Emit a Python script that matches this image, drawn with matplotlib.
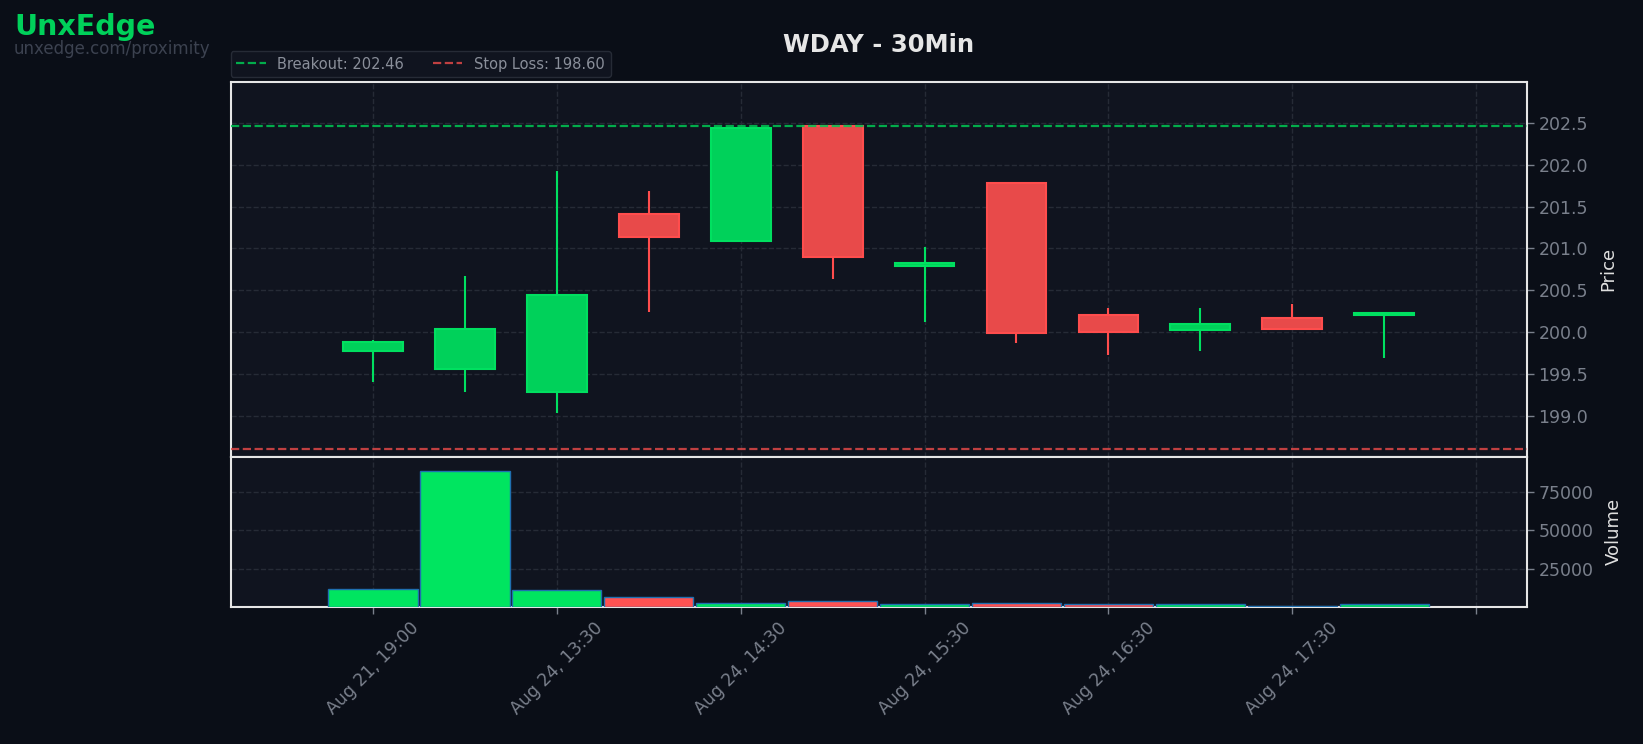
import matplotlib
matplotlib.use("Agg")
import matplotlib.pyplot as plt
from matplotlib.ticker import MultipleLocator

# ---- data ----
title = "WDAY - 30Min"
tick_labels = ["Aug 21, 19:00", "Aug 24, 13:30", "Aug 24, 14:30", "Aug 24, 15:30",
               "Aug 24, 16:30", "Aug 24, 17:30", ""]
opens = [199.77, 199.56, 199.29, 201.41, 201.09, 202.46, 200.79, 201.78, 200.20, 200.02, 200.17, 200.21]
highs = [199.90, 200.67, 201.92, 201.68, 202.44, 202.46, 201.02, 201.78, 200.29, 200.29, 200.33, 200.23]
lows = [199.40, 199.28, 199.03, 200.24, 201.08, 200.64, 200.12, 199.87, 199.73, 199.77, 200.02, 199.69]
closes = [199.88, 200.04, 200.44, 201.14, 202.44, 200.90, 200.82, 199.99, 200.00, 200.10, 200.04, 200.23]
volumes = [11500, 88700, 10800, 6200, 2300, 3600, 1900, 2500, 2100, 2100, 200, 1900]
breakout = 202.46
stop_loss = 198.60

# ---- style ----
FIG_BG = "#0a0e17"
AX_BG = "#10141f"
GREEN_BODY, GREEN_EDGE = "#00d15a", "#00e060"
RED_BODY, RED_EDGE = "#e84a4a", "#ff4d4d"
VOL_GREEN, VOL_RED, VOL_EDGE = "#00e560", "#ff5252", "#1f6fb0"
TICK_COL = "#7a808c"
GRID_COL = "#262b36"

fig = plt.figure(figsize=(16.43, 7.44), dpi=100, facecolor=FIG_BG)
ax = fig.add_axes([0.1403, 0.386, 0.7889, 0.504])
axv = fig.add_axes([0.1403, 0.1845, 0.7889, 0.2015], sharex=ax)

x = list(range(len(opens)))
for i in x:
    up = closes[i] >= opens[i]
    body, edge = (GREEN_BODY, GREEN_EDGE) if up else (RED_BODY, RED_EDGE)
    ax.vlines(i, lows[i], highs[i], color=edge, linewidth=1.5, zorder=2)
    lo = min(opens[i], closes[i])
    h = max(abs(closes[i] - opens[i]), 0.02)
    ax.bar(i, h, bottom=lo, width=0.65, color=body, edgecolor=edge, linewidth=1.5, zorder=3)

ax.axhline(breakout, color="#00c853", linestyle="--", linewidth=1.6, alpha=0.85, zorder=4,
           label=f"Breakout: {breakout:.2f}")
ax.axhline(stop_loss, color="#e04848", linestyle="--", linewidth=1.6, alpha=0.85, zorder=4,
           label=f"Stop Loss: {stop_loss:.2f}")

vcols = [VOL_GREEN if closes[i] >= opens[i] else VOL_RED for i in x]
axv.bar(x, volumes, width=0.97, color=vcols, edgecolor=VOL_EDGE, linewidth=1.0, zorder=3)

ax.set_xlim(-1.55, 12.55)
ax.set_ylim(198.51, 202.99)
axv.set_ylim(0, 98300)

ax.yaxis.set_major_locator(MultipleLocator(0.5))
axv.set_yticks([25000, 50000, 75000])
axv.set_xticks(range(0, 13, 2))
axv.set_xticklabels(tick_labels, rotation=45)

for a in (ax, axv):
    a.set_facecolor(AX_BG)
    a.yaxis.tick_right()
    a.yaxis.set_label_position("right")
    a.tick_params(colors=TICK_COL, labelsize=12.5, length=5, width=1)
    a.grid(True, color=GRID_COL, linestyle="--", linewidth=1.0)
    a.set_axisbelow(True)
    for s in a.spines.values():
        s.set_color("#e6e6e6")
        s.set_linewidth(1.5)
ax.tick_params(axis="x", labelbottom=False, length=0)
axv.tick_params(axis="x", labelsize=12.5, pad=4)

ax.set_ylabel("Price", color="#e0e0e0", fontsize=13, labelpad=8)
axv.set_ylabel("Volume", color="#e0e0e0", fontsize=13, labelpad=8)

leg = ax.legend(loc="lower left", bbox_to_anchor=(0, 1.012), ncol=2, fontsize=10.5,
                facecolor=AX_BG, edgecolor="#262b36", labelcolor="#8a8f9a",
                borderaxespad=0.0, framealpha=1.0, handlelength=2.0, columnspacing=2.0)

fig.text(0.5347, 0.940, title, color="#e6e6e6", fontsize=17.5, fontweight="bold",
         ha="center", va="center")
fig.text(0.009, 0.964, "UnxEdge", color="#00d15a", fontsize=20.5, fontweight="bold",
         ha="left", va="center")
fig.text(0.0085, 0.934, "unxedge.com/proximity", color="#3c4250", fontsize=12,
         ha="left", va="center")

fig.savefig("out.png", dpi=100, facecolor=FIG_BG)
